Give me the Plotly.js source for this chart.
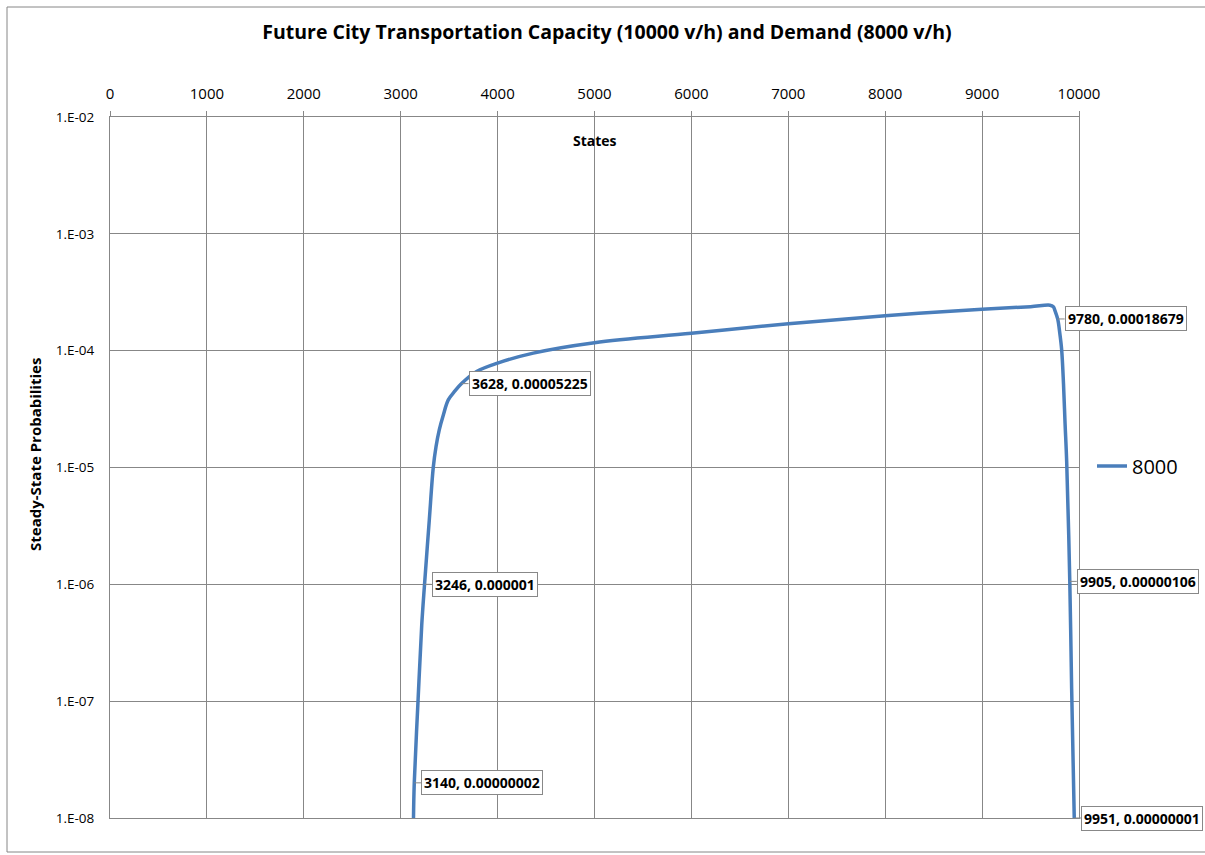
<!DOCTYPE html>
<html>
<head>
<meta charset="utf-8">
<script src="https://cdn.plot.ly/plotly-3.0.1.min.js"></script>
<style>html,body{margin:0;padding:0;background:#fff;}#chart{width:1205px;height:855px;}</style>
</head>
<body>
<div id="chart"></div>
<script>
// Series "8000": states and steady-state probabilities
const states = [3132, 3140, 3180, 3217, 3246, 3295, 3336, 3364, 3398, 3440, 3491, 3560, 3628, 3784, 4000, 4368, 5000, 6000, 7000, 8000, 9000, 9500, 9700, 9735, 9752, 9780, 9800, 9821, 9840, 9856, 9873, 9905, 9924, 9951];
const probs  = [1e-8, 2e-8, 1.05e-7, 4.47e-7, 1e-6, 3.55e-6, 1e-5, 1.5e-5, 2.1e-5, 2.82e-5, 3.79e-5, 4.52e-5, 5.225e-5, 6.62e-5, 7.82e-5, 9.53e-5, 1.17e-4, 1.41e-4, 1.7e-4, 1.99e-4, 2.26e-4, 2.38e-4, 2.45e-4, 2.38e-4, 2.2e-4, 1.8679e-4, 1.45e-4, 1.02e-4, 5.2e-5, 2.4e-5, 1.12e-5, 1.06e-6, 1.29e-7, 1e-8];

// Data labels
const labelStates = [3140, 3246, 3628, 9780, 9905, 9951];
const labelProbs  = [2e-8, 1e-6, 5.225e-5, 1.8679e-4, 1.06e-6, 1e-8];
const labelTexts  = ["3140, 0.00000002", "3246, 0.000001", "3628, 0.00005225", "9780, 0.00018679", "9905, 0.00000106", "9951, 0.00000001"];

// Axis ticks
const yTickVals = [1e-8, 1e-7, 1e-6, 1e-5, 1e-4, 1e-3, 1e-2];
const yTickText = ["1.E-08", "1.E-07", "1.E-06", "1.E-05", "1.E-04", "1.E-03", "1.E-02"];

const seriesName = "8000";
const titleText = "Future City Transportation Capacity (10000 v/h) and Demand (8000 v/h)";
const xTitle = "States";
const yTitle = "Steady-State Probabilities";

const FONT = "Open Sans, Noto Sans, sans-serif";
const GRID = "#878787";

const trace = {
  x: states, y: probs, type: "scatter", mode: "lines", name: seriesName,
  line: {color: "#4a7ebb", width: 3.5, shape: "spline", smoothing: 1},
  cliponaxis: true
};

const annotations = labelStates.map((s, i) => ({
  x: s, y: Math.log10(labelProbs[i]), xref: "x", yref: "y",
  text: "<b>" + labelTexts[i] + "</b>",
  showarrow: true, arrowhead: 0, arrowwidth: 1, arrowcolor: "#888",
  ax: 7, ay: 0, xanchor: "left", yanchor: "middle", standoff: 0,
  bgcolor: "#ffffff", bordercolor: "#888", borderwidth: 1, borderpad: 2,
  font: {family: FONT, size: 14, color: "#000"}
}));

annotations.push({
  x: 5000, y: -2.2, xref: "x", yref: "y", text: "<b>" + xTitle + "</b>",
  showarrow: false, xanchor: "center", yanchor: "middle",
  font: {family: FONT, size: 14, color: "#000"}
});
annotations.push({
  x: (35 - 110) / 969, y: (818 - 455) / 701, xref: "paper", yref: "paper",
  text: "<b>" + yTitle + "</b>", xanchor: "center", yanchor: "middle",
  textangle: -90, showarrow: false, font: {family: FONT, size: 15, color: "#000"}
});

const layout = {
  width: 1205, height: 855,
  margin: {l: 110, r: 126, t: 117, b: 37},
  paper_bgcolor: "#ffffff", plot_bgcolor: "#ffffff",
  font: {family: FONT, color: "#000"},
  title: {text: "<b>" + titleText + "</b>", font: {family: FONT, size: 19.5, color: "#000"},
          x: 607 / 1205, xref: "container", xanchor: "center", y: 1 - 32 / 855, yref: "container", yanchor: "middle"},
  xaxis: {
    side: "top", range: [0, 10000], dtick: 1000, tick0: 0, tickformat: "d",
    showgrid: true, gridcolor: GRID, gridwidth: 1,
    showline: true, linecolor: GRID, linewidth: 1, mirror: true,
    ticks: "outside", ticklen: 5, tickcolor: GRID,
    tickfont: {family: FONT, size: 15, color: "#000"},
    zeroline: false, fixedrange: true, ticklabelstandoff: 6
  },
  yaxis: {
    type: "log", range: [-8, -2],
    tickvals: yTickVals, ticktext: yTickText,
    showgrid: true, gridcolor: GRID, gridwidth: 1,
    showline: true, linecolor: GRID, linewidth: 1, mirror: true,
    ticks: "", tickfont: {family: FONT, size: 13.5, color: "#000"},
    zeroline: false, fixedrange: true, ticklabelstandoff: 12
  },
  showlegend: true,
  legend: {x: (1092 - 110) / 969, xanchor: "left", y: (818 - 466) / 701, yanchor: "middle",
           font: {family: FONT, size: 20, color: "#000"}, bgcolor: "rgba(0,0,0,0)", borderwidth: 0, itemwidth: 30},
  shapes: [{type: "rect", xref: "paper", yref: "paper",
            x0: (7 - 110) / 969, x1: (1212 - 110) / 969, y0: (818 - 852) / 701, y1: (818 - 7) / 701,
            line: {color: "#868686", width: 1}, fillcolor: "rgba(0,0,0,0)", layer: "below"}],
  annotations: annotations
};

Plotly.newPlot("chart", [trace], layout, {displayModeBar: false, staticPlot: true});
</script>
</body>
</html>
